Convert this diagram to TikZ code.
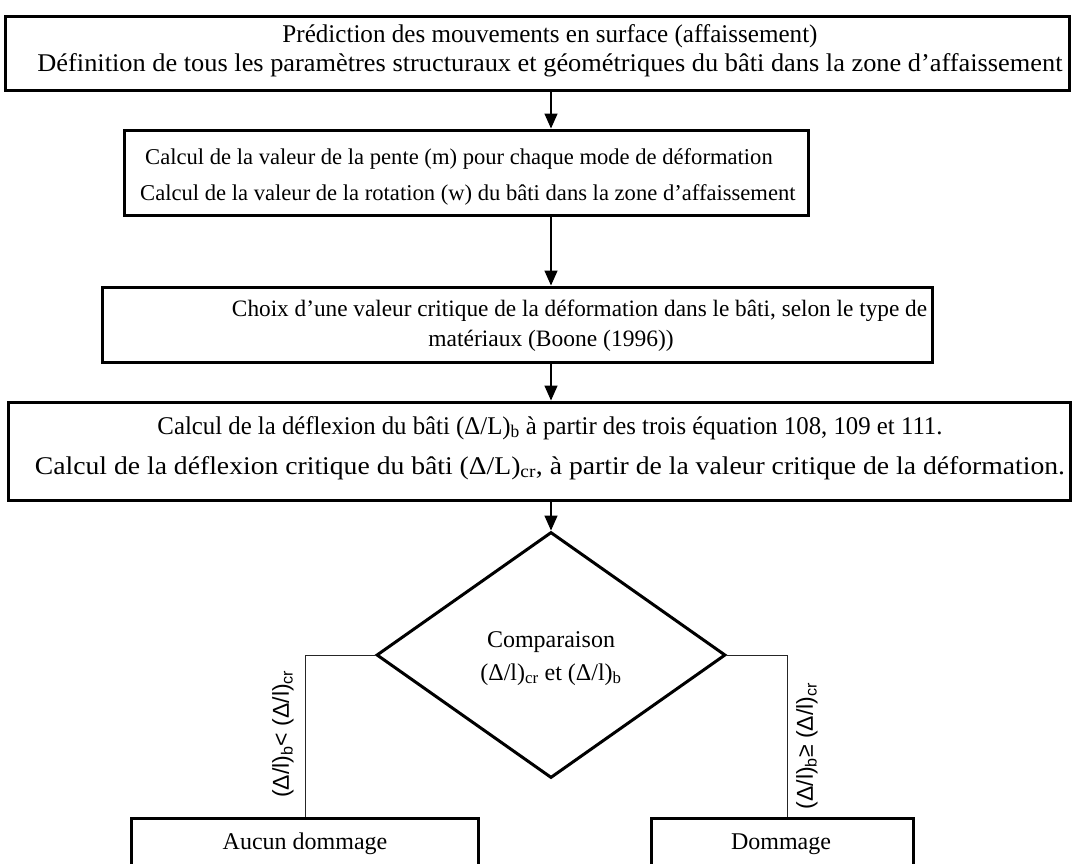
\documentclass[tikz,border=0pt]{standalone}
\usepackage{fontspec}
\setmainfont{Liberation Serif}
\newfontfamily\labfont{Liberation Sans}
\usetikzlibrary{shapes.geometric,arrows.meta}
\newcommand{\fitw}[2]{\resizebox{#1}{\height}{#2}}
\begin{document}
\begin{tikzpicture}[x=1pt,y=1pt,
  box/.style={draw, line width=3pt, inner sep=0pt},
  txt/.style={inner sep=0pt, anchor=base},
  arr/.style={line width=1.5pt, -{Triangle[length=15pt,width=13pt]}},
  link/.style={line width=1pt, draw=black!85},
  lab/.style={font=\labfont\fontsize{23}{27}\selectfont, rotate=90, inner sep=0pt}]
\useasboundingbox (0,0) rectangle (1072,-863);
\fill[white] (0,0) rectangle (1072,-863);

% boxes
\node[box, minimum width=1064pt, minimum height=74pt] (b1) at (537.5,-53) {};
\node[box, minimum width=684pt, minimum height=85pt] (b2) at (466,-172.5) {};
\node[box, minimum width=830pt, minimum height=75pt] (b3) at (517,-324.5) {};
\node[box, minimum width=1062pt, minimum height=98pt] (b4) at (539,-451) {};
\node[diamond, draw, line width=3pt, minimum width=349pt, minimum height=246pt, inner sep=0pt] (d) at (551,-655) {};
\node[box, minimum width=347pt, minimum height=52pt] (nd) at (304.5,-844) {};
\node[box, minimum width=262pt, minimum height=52pt] (dm) at (782,-844) {};

% texts
\begin{scope}[font=\fontsize{25.5}{30}\selectfont]
\node[txt] (t1a) at (550,-42) {\fitw{535pt}{Prédiction des mouvements en surface (affaissement)}};
\node[txt] (t1b) at (550,-71) {\fitw{1025pt}{Définition de tous les paramètres structuraux et géométriques du bâti dans la zone d’affaissement}};
\node[txt] (t4a) at (550,-434) {\fitw{785pt}{Calcul de la déflexion du bâti (Δ/L)\textsubscript{b} à partir des trois équation 108, 109 et 111.}};
\node[txt] (t4b) at (550,-474) {\fitw{1030pt}{Calcul de la déflexion critique du bâti (Δ/L)\textsubscript{cr}, à partir de la valeur critique de la déformation.}};
\end{scope}
\begin{scope}[font=\fontsize{22.6}{26}\selectfont]
\node[txt, anchor=base west] (t2a) at (145,-164) {Calcul de la valeur de la pente (m) pour chaque mode de déformation};
\node[txt, anchor=base west] (t2b) at (140,-200) {Calcul de la valeur de la rotation (w) du bâti dans la zone d’affaissement};
\end{scope}
\begin{scope}[font=\fontsize{23.5}{28}\selectfont]
\node[txt] (t3a) at (579.5,-316) {\fitw{695pt}{Choix d’une valeur critique de la déformation dans le bâti, selon le type de}};
\node[txt] (t3b) at (551,-346) {matériaux (Boone (1996))};
\end{scope}
\begin{scope}[font=\fontsize{24}{28}\selectfont]
\node[txt] (tda) at (551,-647) {Comparaison};
\node[txt] (tdb) at (551,-680) {(Δ/l)\textsubscript{cr} et (Δ/l)\textsubscript{b}};
\node[txt] (tnd) at (305,-849) {Aucun dommage};
\node[txt] (tdm) at (781,-849) {Dommage};
\end{scope}

% arrows
\coordinate (ax) at (551,0);
\draw[arr] (b1.south -| ax) -- (b2.north -| ax);
\draw[arr] (b2.south -| ax) -- (b3.north -| ax);
\draw[arr] (b3.south -| ax) -- (b4.north -| ax);
\draw[arr] (b4.south -| ax) -- (d.north);

% branches
\coordinate (lc) at (305,-655);
\coordinate (rc) at (787,-655);
\draw[link] (d.west) -- (lc) -- (lc |- nd.north);
\draw[link] (d.east) -- (rc) -- (rc |- dm.north);

\node[lab] (ll) at (283,-734) {(Δ/l)\textsubscript{b}< (Δ/l)\textsubscript{cr}};
\node[lab] (rl) at (807,-746) {(Δ/l)\textsubscript{b}≥ (Δ/l)\textsubscript{cr}};
\end{tikzpicture}
\end{document}
